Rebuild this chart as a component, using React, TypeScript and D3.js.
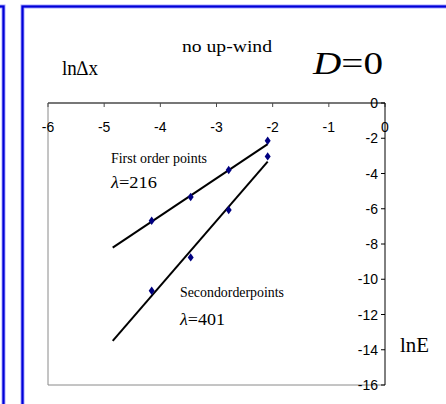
import React from "react";
import * as d3 from "d3";

// ln(mesh size) values of the four refinements
const lnDx = [-4.154, -3.46, -2.783, -2.089];
// ln(error) for the first- and second-order schemes
const firstOrder = [-6.68, -5.33, -3.8, -2.14];
const secondOrder = [-10.65, -8.76, -6.07, -3.03];
// Fitted trend lines, given by their end points [lnDx, lnE]
const firstFit: [number, number][] = [[-4.848, -8.21], [-2.089, -2.33]];
const secondFit: [number, number][] = [[-4.848, -13.5], [-2.089, -3.33]];

const xTicks = [-6, -5, -4, -3, -2, -1, 0];
const yTicks = [0, -2, -4, -6, -8, -10, -12, -14, -16];

const W = 446;
const H = 404;

export default function App() {
  const x = d3.scaleLinear().domain([-6, 0]).range([48, 385]);
  const y = d3.scaleLinear().domain([0, -16]).range([103, 385]);
  const line = d3
    .line<[number, number]>()
    .x((d) => x(d[0]))
    .y((d) => y(d[1]));
  // slightly wider than d3's default diamond
  const diamond = "M0,-4.2L3,0L0,4.2L-3,0Z";
  const sans = "'Liberation Sans', Arial, sans-serif";
  const serif = "'Liberation Serif', 'Times New Roman', serif";

  return (
    <svg
      width={W}
      height={H}
      style={{ position: "absolute", left: 0, top: 0, background: "#fff" }}
    >
      {/* panel frames */}
      <g fill="none">
        <rect x={-500} y={6.5} width={503.5} height={600} stroke="#a8a8ff" strokeWidth={4} />
        <rect x={-500} y={6.5} width={503.5} height={600} stroke="#0000d8" strokeWidth={2.2} />
        <rect x={22.5} y={6.5} width={600} height={600} stroke="#a8a8ff" strokeWidth={4} />
        <rect x={22.5} y={6.5} width={600} height={600} stroke="#0000d8" strokeWidth={2.2} />
      </g>

      {/* plot area border */}
      <line x1={48} x2={48} y1={y(0)} y2={y(-16)} stroke="#8a8a8a" strokeWidth={1} />
      <line x1={48} x2={x(0)} y1={y(-16)} y2={y(-16)} stroke="#8a8a8a" strokeWidth={1} />

      {/* x axis along lnE = 0 */}
      <line x1={x(-6)} x2={x(0)} y1={y(0)} y2={y(0)} stroke="#4a4a4a" strokeWidth={1.6} />
      {xTicks.map((t) => (
        <g key={"xt" + t}>
          <line x1={x(t)} x2={x(t)} y1={y(0)} y2={y(0) + 4} stroke="#4a4a4a" strokeWidth={1} />
          <text
            x={x(t)}
            y={y(0) + 29}
            textAnchor="middle"
            fontFamily={sans}
            fontSize={14}
            fill="#000"
          >
            {t}
          </text>
        </g>
      ))}

      {/* y axis along lnDx = 0 */}
      <line x1={x(0)} x2={x(0)} y1={y(0)} y2={y(-16)} stroke="#000" strokeWidth={1} />
      {yTicks.map((t) => (
        <g key={"yt" + t}>
          <line x1={x(0) - 4} x2={x(0)} y1={y(t)} y2={y(t)} stroke="#000" strokeWidth={1} />
          <text
            x={x(0) - 7}
            y={y(t) + 5}
            textAnchor="end"
            fontFamily={sans}
            fontSize={14}
            fill="#000"
          >
            {t}
          </text>
        </g>
      ))}

      {/* fitted lines */}
      <path d={line(firstFit) as string} fill="none" stroke="#000" strokeWidth={2} />
      <path d={line(secondFit) as string} fill="none" stroke="#000" strokeWidth={2} />

      {/* data points */}
      {lnDx.map((v, i) => (
        <g key={"p" + i} fill="#000080">
          <path d={diamond} transform={`translate(${x(v)},${y(firstOrder[i])})`} />
          <path d={diamond} transform={`translate(${x(v)},${y(secondOrder[i])})`} />
        </g>
      ))}

      {/* titles and annotations */}
      <text x={182} y={52} fontFamily={serif} fontSize={16} textLength={90} lengthAdjust="spacingAndGlyphs">
        no up-wind
      </text>
      <text x={62} y={75} fontFamily={serif} fontSize={21} textLength={36} lengthAdjust="spacingAndGlyphs">
        ln∆x
      </text>
      <text x={313} y={74} fontFamily={serif} fontSize={31} textLength={70} lengthAdjust="spacingAndGlyphs">
        <tspan fontStyle="italic">D</tspan>=0
      </text>
      <text x={111} y={163} fontFamily={serif} fontSize={15} textLength={96} lengthAdjust="spacingAndGlyphs">
        First  order points
      </text>
      <text x={111} y={188} fontFamily={serif} fontSize={17} textLength={46} lengthAdjust="spacingAndGlyphs">
        <tspan fontStyle="italic">λ</tspan>=216
      </text>
      <text x={180} y={297} fontFamily={serif} fontSize={15} textLength={104} lengthAdjust="spacingAndGlyphs">
        Secondorderpoints
      </text>
      <text x={180} y={325} fontFamily={serif} fontSize={17} textLength={45} lengthAdjust="spacingAndGlyphs">
        <tspan fontStyle="italic">λ</tspan>=401
      </text>
      <text x={400} y={352} fontFamily={serif} fontSize={21} textLength={29} lengthAdjust="spacingAndGlyphs">
        lnE
      </text>
    </svg>
  );
}
